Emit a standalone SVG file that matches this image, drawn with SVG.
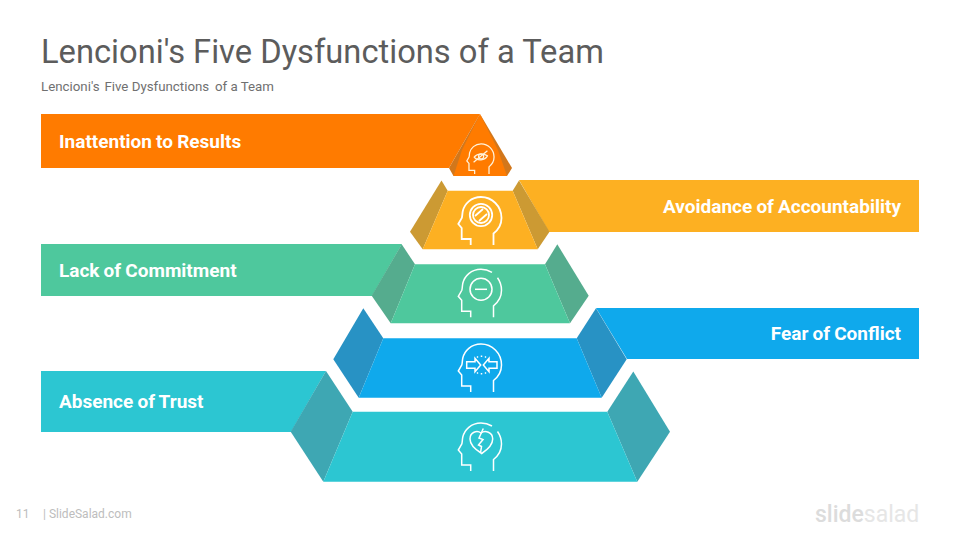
<svg xmlns="http://www.w3.org/2000/svg" width="960" height="540" viewBox="0 0 960 540">
<style>
text{font-family:Roboto,"Liberation Sans",sans-serif}
.t{font-size:32.700px;fill:#5c5c5c}
.s{font-size:13.300px;fill:#707070}
.l{font-size:19px;font-weight:700;fill:#fff;word-spacing:-.6px}
.f{font-size:12px;fill:#bdbdbd}
.i{fill:none;stroke:#fff;stroke-width:1.500}
.o{fill:#ff7b00}.od{fill:#d2771b}
.y{fill:#fdb022}.yd{fill:#cc9a33}
.g{fill:#4ec89d}.gd{fill:#55ac8e}
.b{fill:#0fa9ec}.bd{fill:#2892c4}
.c{fill:#2cc6d2}.cd{fill:#3ea7b3}
</style>
<defs>
<path id="head" d="M13.500 24V12.500C18 9 21.500 3.500 21.500-3C21.500-15 12-24 1-24C-9-24-15.500-17-17.200-10C-17.800-7-17.600-5-18.200-3L-21.700 3L-18.300 7V18H-9.300V24"/>
<path id="headgap" d="M13.500 24V12.500C18 9 21.500 3.500 21.500-3C21.500-8 20-12 17.500-15.500M12-21C8.500-23 5-24 1-24C-9-24-15.500-17-17.200-10C-17.800-7-17.600-5-18.200-3L-21.700 3L-18.300 7V18H-9.300V24"/>
</defs>
<text class="t" x="41" y="63">Lencioni's Five Dysfunctions of a Team</text>
<text class="s" x="41" y="91">Lencioni's <tspan dx="1.500">Five</tspan> Dysfunctions <tspan dx="2.500">of</tspan> a Team</text>
<g id="connectors"></g>
<g id="node-results">
<polygon class="o" points="41,114 480,114 449,168 41,168"/>
<polygon class="od" points="480,114 449,168 453.500,176 462,176"/>
<polygon class="od" points="480,114 512,168 507,176 498,176"/>
<polygon class="o" points="480,114 462,150 453.500,176 507,176 498,150"/>
<text class="l" x="59" y="148">Inattention to Results</text>
<g class="i" transform="translate(480.500 159) scale(.63)" style="stroke:#fff3dc;stroke-width:2"><use href="#head"/>
<path d="M-10-3C-6-9 6-9 11-5C7 2-5 4-10-3Z"/><circle cx="1" cy="-4" r="4"/><path d="M-11 5L11-13"/></g>
</g>
<g id="node-accountability">
<polygon class="y" points="519,180 919,180 919,232 549,232"/>
<polygon class="yd" points="441.500,180.500 410,231.700 422.700,249.300 447.700,190.700"/>
<polygon class="yd" points="519,180.500 549.500,231.700 537.700,249.300 512.700,190.700"/>
<polygon class="y" points="447.700,190.700 512.700,190.700 537.700,249.300 422.700,249.300"/>
<text class="l" x="901" y="213" text-anchor="end">Avoidance of Accountability</text>
<g class="i" transform="translate(480 221)" style="stroke-width:1.800"><use href="#head"/>
<circle cx="1" cy="-6" r="11.200"/><circle cx="1" cy="-6" r="8"/><path d="M-5-5L3-12M-1 0L7-7"/></g>
</g>
<g id="node-commitment">
<polygon class="g" points="41,244 402,244 372,296 41,296"/>
<polygon class="gd" points="401.700,244.300 371.700,295.700 390.700,323.300 415,264.300"/>
<polygon class="gd" points="557.300,244.300 588.700,295.700 570,323.300 545,264.300"/>
<polygon class="g" points="415,264.300 545,264.300 570,323.300 390.700,323.300"/>
<text class="l" x="59" y="277">Lack of Commitment</text>
<g class="i" transform="translate(480 293.300)"><use href="#headgap"/>
<circle cx="1" cy="-4" r="11"/><path d="M-5-4H7"/></g>
</g>
<g id="node-conflict">
<polygon class="b" points="596,308 919,308 919,359 627,359"/>
<polygon class="bd" points="363.300,308.300 333.300,359.300 358.700,397.700 383.300,338.300"/>
<polygon class="bd" points="596,308.300 626.700,359.300 601.700,397.700 576.700,338.300"/>
<polygon class="b" points="383.300,338.300 576.700,338.300 601.700,397.700 358.700,397.700"/>
<text class="l" x="901" y="340" text-anchor="end">Fear of Conflict</text>
<g class="i" transform="translate(480 368)"><use href="#head"/>
<path d="M-13.300-6.300H-5V-9.700L.7-3L-5 3.700V.3H-13.300ZM17-6.300H9V-9.700L3.300-3L9 3.700V.3H17Z"/>
<path d="M-3-11.500L-2-10.500M1.500-12.500V-11M6-11.500L5-10.500M-3 5.500L-2 4.500M1.500 6.500V5M6 5.500L5 4.500"/></g>
</g>
<g id="node-trust">
<polygon class="c" points="41,371 326,371 291,432 41,432"/>
<polygon class="cd" points="326,371 290.700,431.700 323.300,481.700 352.700,411.700"/>
<polygon class="cd" points="633.300,371.500 670,431.700 637.300,481.700 607.300,411.700"/>
<polygon class="c" points="352.700,411.700 607.300,411.700 637.300,481.700 323.300,481.700"/>
<text class="l" x="59" y="408">Absence of Trust</text>
<g class="i" transform="translate(480 447)"><use href="#headgap"/>
<path d="M1-14C-3-17-10-15-10-8C-10-2-4 3 1.700 6.500C7 3 12.700-2 12.700-8C12.700-15 5-17 1-14Z"/>
<path d="M3.300-18.500L-1-9L3-7.500L-1.500-2L1.500-.500L.5 6"/></g>
</g>
<g id="footer">
<text class="f" x="16" y="518">11</text>
<text class="f" x="43" y="518">| SlideSalad.com</text>
<text x="815" y="522" font-size="23" font-weight="500" fill="#dcdcdc">slide<tspan fill="#e6e6e6" font-weight="400">salad</tspan></text>
</g>
</svg>
